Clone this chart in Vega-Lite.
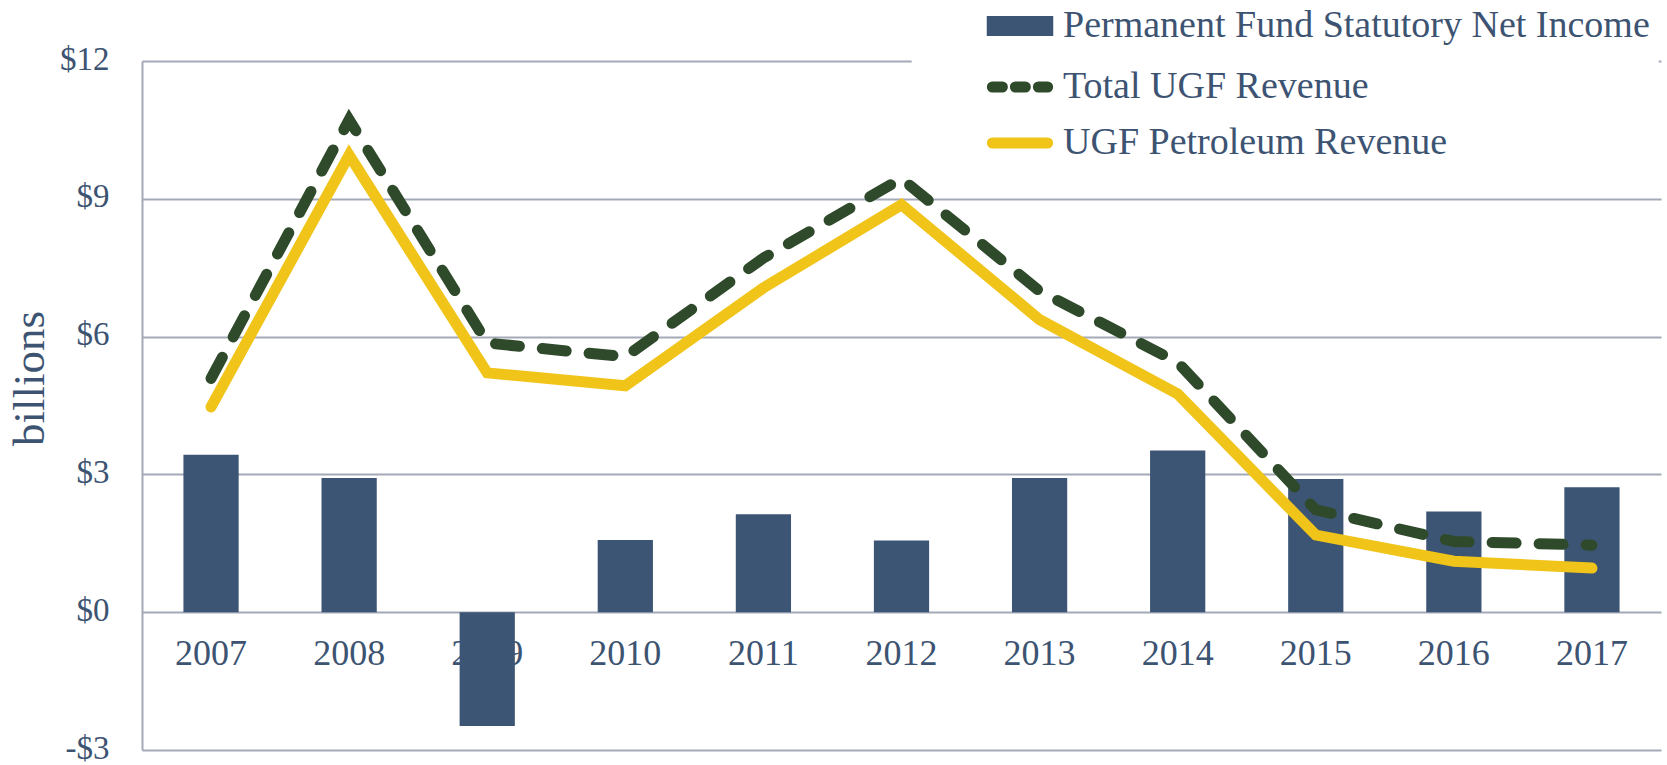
{
  "$schema": "https://vega.github.io/schema/vega-lite/v6.json",
  "autosize": "none",
  "width": 1519,
  "height": 689,
  "padding": {"left": 142, "top": 61, "right": 6, "bottom": 15},
  "background": "white",
  "config": {"view": {"stroke": null}},
  "data": {"values": [
    {"year": "2007", "series": "Permanent Fund Statutory Net Income", "value": 3.43},
    {"year": "2008", "series": "Permanent Fund Statutory Net Income", "value": 2.92},
    {"year": "2009", "series": "Permanent Fund Statutory Net Income", "value": -2.48},
    {"year": "2010", "series": "Permanent Fund Statutory Net Income", "value": 1.57},
    {"year": "2011", "series": "Permanent Fund Statutory Net Income", "value": 2.13},
    {"year": "2012", "series": "Permanent Fund Statutory Net Income", "value": 1.56},
    {"year": "2013", "series": "Permanent Fund Statutory Net Income", "value": 2.92},
    {"year": "2014", "series": "Permanent Fund Statutory Net Income", "value": 3.52},
    {"year": "2015", "series": "Permanent Fund Statutory Net Income", "value": 2.9},
    {"year": "2016", "series": "Permanent Fund Statutory Net Income", "value": 2.19},
    {"year": "2017", "series": "Permanent Fund Statutory Net Income", "value": 2.72},
    {"year": "2007", "series": "Total UGF Revenue", "value": 5.09},
    {"year": "2008", "series": "Total UGF Revenue", "value": 10.72},
    {"year": "2009", "series": "Total UGF Revenue", "value": 5.86},
    {"year": "2010", "series": "Total UGF Revenue", "value": 5.56},
    {"year": "2011", "series": "Total UGF Revenue", "value": 7.71},
    {"year": "2012", "series": "Total UGF Revenue", "value": 9.44},
    {"year": "2013", "series": "Total UGF Revenue", "value": 6.99},
    {"year": "2014", "series": "Total UGF Revenue", "value": 5.44},
    {"year": "2015", "series": "Total UGF Revenue", "value": 2.23},
    {"year": "2016", "series": "Total UGF Revenue", "value": 1.54},
    {"year": "2017", "series": "Total UGF Revenue", "value": 1.46},
    {"year": "2007", "series": "UGF Petroleum Revenue", "value": 4.47},
    {"year": "2008", "series": "UGF Petroleum Revenue", "value": 9.95},
    {"year": "2009", "series": "UGF Petroleum Revenue", "value": 5.21},
    {"year": "2010", "series": "UGF Petroleum Revenue", "value": 4.93},
    {"year": "2011", "series": "UGF Petroleum Revenue", "value": 7.06},
    {"year": "2012", "series": "UGF Petroleum Revenue", "value": 8.87},
    {"year": "2013", "series": "UGF Petroleum Revenue", "value": 6.37},
    {"year": "2014", "series": "UGF Petroleum Revenue", "value": 4.75},
    {"year": "2015", "series": "UGF Petroleum Revenue", "value": 1.68},
    {"year": "2016", "series": "UGF Petroleum Revenue", "value": 1.11},
    {"year": "2017", "series": "UGF Petroleum Revenue", "value": 0.96}
  ]},
  "encoding": {
    "x": {
      "field": "year", "type": "ordinal",
      "scale": {"type": "band", "paddingInner": 0.6, "paddingOuter": 0.3},
      "axis": {
        "title": null, "domain": false, "ticks": false, "grid": false,
        "labelAngle": 0, "labelFont": "Liberation Serif", "labelFontSize": 36,
        "labelColor": "#3d5372", "labelPadding": 24, "offset": -137.8, "zindex": 0
      }
    },
    "y": {
      "field": "value", "type": "quantitative",
      "scale": {"domain": [-3, 12], "nice": false, "zero": false},
      "axis": {
        "title": "billions", "values": [-3, 0, 3, 6, 9, 12],
        "labelExpr": "datum.value < 0 ? '-$' + abs(datum.value) : '$' + datum.value",
        "grid": true, "gridColor": "#a3a9b6", "gridWidth": 2,
        "domain": true, "domainColor": "#a3a9b6", "domainWidth": 2,
        "ticks": false, "labelPadding": 33, "labelOffset": -2,
        "labelFont": "Liberation Serif", "labelFontSize": 33, "labelColor": "#3d5372",
        "titleFont": "Liberation Serif", "titleFontSize": 45, "titleFontWeight": "normal",
        "titleColor": "#3d5372", "titleAngle": -90, "titleX": -113, "titleY": 317,
        "titleAlign": "center", "titleBaseline": "middle", "zindex": 0
      }
    },
    "color": {
      "field": "series", "type": "nominal",
      "scale": {
        "domain": ["Permanent Fund Statutory Net Income", "Total UGF Revenue", "UGF Petroleum Revenue"],
        "range": ["#3d5574", "#2f4a2b", "#f0c419"]
      },
      "legend": {
        "orient": "none", "legendX": 769.7, "legendY": -65.5,
        "title": null, "fillColor": "white", "padding": 8, "rowPadding": 11,
        "symbolOffset": 77.8, "labelOffset": 20.5, "symbolSize": 1122,
        "labelFont": "Liberation Serif", "labelFontSize": 38, "labelColor": "#3d5372",
        "labelLimit": 1000,
        "encode": {
          "symbols": {
            "update": {
              "shape": {"signal": "datum.value === 'Permanent Fund Statutory Net Income' ? 'M-1.657,-0.269H1.657V0.269H-1.657Z' : 'M-1.65,0H1.65'"},
              "fill": {"signal": "datum.value === 'Permanent Fund Statutory Net Income' ? '#3d5574' : 'transparent'"},
              "stroke": {"signal": "datum.value === 'Permanent Fund Statutory Net Income' ? '#3d5574' : (datum.value === 'Total UGF Revenue' ? '#2f4a2b' : '#f0c419')"},
              "strokeWidth": {"value": 11},
              "strokeDash": {"signal": "datum.value === 'Total UGF Revenue' ? [10, 13] : [1, 0]"},
              "strokeCap": {"signal": "datum.value === 'Permanent Fund Statutory Net Income' ? 'butt' : 'round'"},
              "size": {"value": 1122},
              "opacity": {"value": 1}
            }
          }
        }
      }
    }
  },
  "layer": [
    {
      "transform": [{"filter": "datum.series === 'Permanent Fund Statutory Net Income'"}],
      "mark": {"type": "bar"}
    },
    {
      "transform": [{"filter": "datum.series === 'Total UGF Revenue'"}],
      "mark": {"type": "line", "strokeWidth": 11, "strokeDash": [24, 23], "strokeCap": "round"}
    },
    {
      "transform": [{"filter": "datum.series === 'UGF Petroleum Revenue'"}],
      "mark": {"type": "line", "strokeWidth": 11, "strokeCap": "round"}
    }
  ]
}
